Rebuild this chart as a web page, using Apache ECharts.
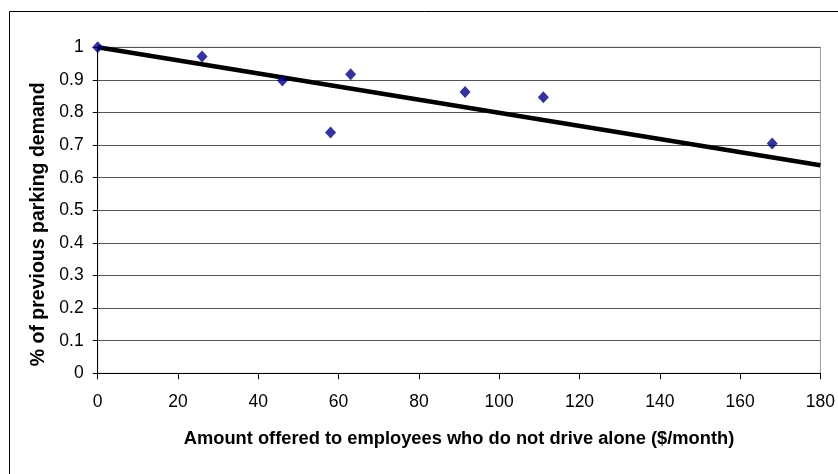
<!DOCTYPE html>
<html>
<head>
<meta charset="utf-8">
<script src="https://cdn.jsdelivr.net/npm/echarts@6/dist/echarts.min.js"></script>
<style>
html,body{margin:0;padding:0;background:#fff;}
#c{width:838px;height:474px;}
</style>
</head>
<body>
<div id="c"></div>
<script>
// Data
var amountOffered = [0, 26, 46, 58, 63, 91.5, 111, 168];
var parkingShare  = [1.0, 0.972, 0.898, 0.739, 0.917, 0.863, 0.847, 0.705];
var trendX = [0, 180];
var trendY = [1.0, 0.638];
var xTicks = [0, 20, 40, 60, 80, 100, 120, 140, 160, 180];
var yTicks = [0, 0.1, 0.2, 0.3, 0.4, 0.5, 0.6, 0.7, 0.8, 0.9, 1];
var xTitle = 'Amount offered to employees who do not drive alone ($/month)';
var yTitle = '% of previous parking demand';

var pts = amountOffered.map(function (x, i) { return [x, parkingShare[i]]; });
var trend = trendX.map(function (x, i) { return [x, trendY[i]]; });

var font = 'Liberation Sans, Arial, sans-serif';
var chart = echarts.init(document.getElementById('c'), null, {renderer: 'canvas'});
chart.setOption({
  animation: false,
  backgroundColor: '#ffffff',
  grid: {
    left: 97.7, right: 17.6, top: 47.3, bottom: 100.7,
    show: true, borderColor: '#999999', borderWidth: 1, backgroundColor: 'transparent'
  },
  graphic: [{
    type: 'rect', silent: true, z: -10,
    shape: {x: 9.5, y: 11.5, width: 1000, height: 1000},
    style: {fill: 'none', stroke: '#000000', lineWidth: 1}
  }],
  xAxis: {
    type: 'value', min: xTicks[0], max: xTicks[xTicks.length - 1], interval: 20,
    name: xTitle, nameLocation: 'middle', nameGap: 57,
    nameTextStyle: {fontFamily: font, fontWeight: 'bold', fontSize: 18.3, color: '#000'},
    axisLine: {show: true, lineStyle: {color: '#000', width: 1}},
    axisTick: {show: true, inside: false, length: 6, lineStyle: {color: '#000'}},
    axisLabel: {fontFamily: font, fontSize: 17.5, color: '#000', margin: 20},
    splitLine: {show: false}
  },
  yAxis: {
    type: 'value', min: yTicks[0], max: yTicks[yTicks.length - 1], interval: 0.1,
    name: yTitle, nameLocation: 'middle', nameGap: 41, nameRotate: 90,
    nameTextStyle: {fontFamily: font, fontWeight: 'bold', fontSize: 19.5, color: '#000', padding: [0, 28, 0, 0]},
    axisLine: {show: true, lineStyle: {color: '#000', width: 1}},
    axisTick: {show: true, inside: false, length: 5, lineStyle: {color: '#000'}},
    axisLabel: {fontFamily: font, fontSize: 17.5, color: '#000', margin: 14,
      formatter: function (v) { return String(Math.round(v * 10) / 10); }},
    splitLine: {show: true, lineStyle: {color: '#555555', width: 1}}
  },
  series: [{
    type: 'line', data: trend, symbol: 'none', z: 2,
    lineStyle: {color: '#000000', width: 4.5}
  }, {
    type: 'scatter', data: pts, symbol: 'diamond', symbolSize: [11, 12], z: 3,
    itemStyle: {color: '#000080'}
  }]
});
</script>
</body>
</html>
